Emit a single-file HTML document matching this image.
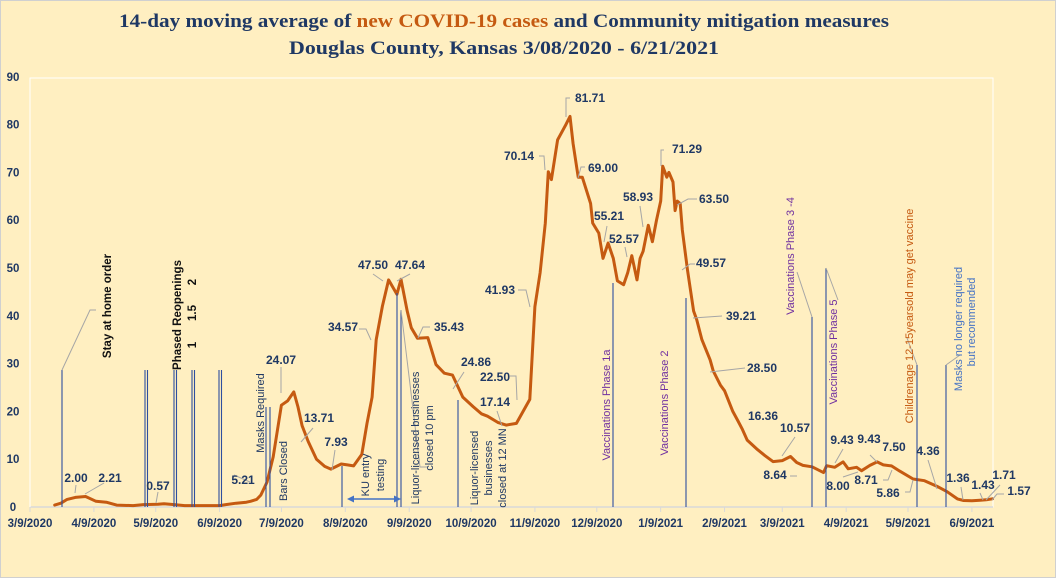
<!DOCTYPE html>
<html><head><meta charset="utf-8">
<style>
html,body{margin:0;padding:0;background:#FFEFC1;}
svg{display:block;}
text{font-family:"Liberation Sans",sans-serif;}
.t{font-family:"Liberation Serif",serif;font-weight:bold;fill:#1F3864;font-size:19px;}
.ax{font-size:11.5px;fill:#1F3864;font-weight:bold;}
.lb{font-size:12px;fill:#1F3864;font-weight:bold;}
.ev{font-size:11px;fill:#1F3864;}
.evb{font-size:11.5px;fill:#111;font-weight:bold;}
.vac{font-size:11px;fill:#7030A0;}
</style></head>
<body>
<svg id="chart" width="1056" height="578" viewBox="0 0 1056 578">
<rect x="0.5" y="0.5" width="1055" height="577" fill="#FFEFC1" stroke="#D0D0D0"/>
<rect x="30" y="78" width="963" height="429" fill="none" stroke="#FFFFFF" stroke-width="1"/>
<text class="t" x="504" y="27" text-anchor="middle" textLength="770" lengthAdjust="spacingAndGlyphs">14-day moving average of <tspan fill="#C55A11">new COVID-19 cases</tspan> and Community mitigation measures</text>
<text class="t" x="504" y="54" text-anchor="middle" textLength="430" lengthAdjust="spacingAndGlyphs">Douglas County, Kansas 3/08/2020 - 6/21/2021</text>
<g id="axes"></g>
<g id="events"></g>
<g id="series"></g>
<g id="labels"></g>
</svg>
<script>
// ---- data ----
const dayOffsets = [12,15,18,22,27,32,37,42,50,55,62,65,70,75,85,92,95,100,105,107,110,112,115,118,122,125,128,130,132,135,139,143,146,151,154,157,161,163.5,166,168,171,174,178,180,183,185,188,193,197,201,205,210,215,219,222,227,231,236,242.5,245,247.5,250,251.5,253,256,260,262,263.5,266,268,272,273,276,278,280.5,283,285,288,290,292,294.5,296,297.5,300,302,304,306,307,309,310,312,313,314,315.5,316.5,319,322,323.5,326,330,331.5,335,337,341,343.5,345.5,348,353,356.5,360.5,365,369,372,375,379.5,385,386.5,390.5,394.5,397,401,403.5,407.5,411,414,418,422,428.5,434,440,445,450,453,457,461,464,467];
const caseValues = [0.4,0.8,1.6,2.0,2.2,1.2,1.0,0.4,0.3,0.5,0.57,0.7,0.5,0.3,0.3,0.3,0.5,0.8,1.0,1.2,1.6,2.5,5.2,10.5,21.3,22.2,24.07,21,17,13.71,10,8.5,7.93,9,8.8,8.6,11,17.5,23,35,42,47.5,44.5,47.64,41,37.5,35.3,35.43,29.8,28,27.6,23,21,19.5,19,17.7,17.14,17.5,22.5,41.93,49,59.4,70.14,68.5,76.8,80,81.71,76,69,69.0,63.5,59.4,57.3,52,55.21,52,47.3,46.5,49,52.57,47.5,52,53.5,58.93,55.5,60,64,71.29,69,70,68,62,64,63.5,58,49.57,41,39.21,35,30.8,28.5,25.5,24.3,20,18,16.36,14,12,10.8,9.5,9.7,10.57,9.3,8.7,8.4,7.2,8.64,8.3,9.43,8.0,8.3,7.6,8.71,9.43,8.8,8.6,7.5,5.86,5.5,4.36,3.2,1.7,1.36,1.3,1.43,1.5,1.71,1.57];
const yTicks = [0,10,20,30,40,50,60,70,80,90];
const xTickLabels = ["3/9/2020","4/9/2020","5/9/2020","6/9/2020","7/9/2020","8/9/2020","9/9/2020","10/9/2020","11/9/2020","12/9/2020","1/9/2021","2/9/2021","3/9/2021","4/9/2021","5/9/2021","6/9/2021"];
const xTickDays = [0,31,61,92,122,153,184,214,245,275,306,337,365,396,426,457];

// ---- scales ----
const X0 = 30, PXD = 2.061, Y0 = 507, PXV = 4.78;
function xs(d){ return X0 + d*PXD; }
function ys(v){ return Y0 - v*PXV; }
const NS = "http://www.w3.org/2000/svg";
function mk(tag, attrs, parent, txt){
  const e = document.createElementNS(NS, tag);
  for (const k in attrs) e.setAttribute(k, attrs[k]);
  if (txt !== undefined) e.textContent = txt;
  parent.appendChild(e);
  return e;
}
const axes = document.getElementById('axes');
let a1 = mk('line',{x1:X0,y1:Y0,x2:993,y2:Y0,stroke:'#D9D9D9','stroke-width':1.5},axes);


let a2 = mk('line',{x1:X0,y1:78,x2:X0,y2:Y0,stroke:'#FFFFFF','stroke-width':1},axes);


yTicks.forEach(v=>{
  const t = mk('text',{x:13,y:ys(v)+4,'text-anchor':'middle',class:'ax'},axes,String(v));
  
  
});
xTickLabels.forEach((s,i)=>{
  const x = xs(xTickDays[i]);
  const tk = mk('line',{x1:x,y1:Y0,x2:x,y2:Y0+5,stroke:'#D9D9D9'},axes);
  
  
  const t = mk('text',{x:x,y:527,'text-anchor':'middle',class:'ax'},axes,s);
  
  
});

// ---- series ----
const series = document.getElementById('series');
let d = '';
dayOffsets.forEach((dd,i)=>{ d += (i?'L':'M') + xs(dd).toFixed(1) + ',' + ys(caseValues[i]).toFixed(1); });
const path = mk('path',{d:d,fill:'none',stroke:'#C55A11','stroke-width':3,'stroke-linejoin':'round','stroke-linecap':'round'},series);


</script>
<svg style="position:absolute;left:0;top:0" width="1056" height="578">
<g stroke="#2F4F9F" stroke-width="1.1">
<line x1="62" y1="370" x2="62" y2="507"/>
<line x1="145" y1="370" x2="145" y2="507"/><line x1="147.5" y1="370" x2="147.5" y2="507"/>
<line x1="174" y1="370" x2="174" y2="507"/><line x1="176.5" y1="370" x2="176.5" y2="507"/>
<line x1="192" y1="370" x2="192" y2="507"/><line x1="194.5" y1="370" x2="194.5" y2="507"/>
<line x1="219" y1="370" x2="219" y2="507"/><line x1="221.5" y1="370" x2="221.5" y2="507"/>
<line x1="266" y1="407" x2="266" y2="507"/>
<line x1="270" y1="407" x2="270" y2="507"/>
<line x1="342" y1="466" x2="342" y2="507"/>
<line x1="397" y1="293" x2="397" y2="507"/>
<line x1="401" y1="310" x2="401" y2="507"/>
<line x1="458" y1="400" x2="458" y2="507"/>
<line x1="613" y1="283" x2="613" y2="507"/>
<line x1="686" y1="298" x2="686" y2="507"/>
<line x1="812" y1="317" x2="812" y2="507"/>
<line x1="826" y1="268" x2="826" y2="507"/>
<line x1="917" y1="365" x2="917" y2="507"/>
<line x1="946" y1="365" x2="946" y2="507"/>
</g>
<g stroke="#A6A6A6" stroke-width="1" fill="none">
<polyline points="62,370 90,310 96,310"/>
<polyline points="75,493 76,485"/><polyline points="85,494 104,483"/>
<polyline points="156,503 158,492"/><polyline points="250,482 234,475"/>
<polyline points="281,393 281,367"/><polyline points="301,442 313,428"/>
<polyline points="332,470 335,450"/><polyline points="371,340 366,329 359,329"/>
<polyline points="383,281 373,274"/><polyline points="397,281 410,274"/>
<polyline points="418,338 423,327 430,327"/><polyline points="453,389 464,372"/>
<polyline points="401,310 420,467 428,467"/><polyline points="517,400 516,376 510,376"/>
<polyline points="502,426 497,411"/><polyline points="530,307 526,290 518,290"/>
<polyline points="545,170 544,156 539,156"/><polyline points="566,117 566,98 570,98"/>
<polyline points="578,178 581,167 585,167"/><polyline points="604,242 607,226"/>
<polyline points="627,257 625,247"/><polyline points="643,227 640,206"/>
<polyline points="661,166 661,150 664,150"/><polyline points="677,205 688,199 697,199"/>
<polyline points="682,270 690,264 695,264"/><polyline points="693,318 722,316"/>
<polyline points="710,372 745,368"/><polyline points="782,456 795,437"/>
<polyline points="790,476 797,476"/><polyline points="835,463 843,449"/>
<polyline points="843,477 858,472"/><polyline points="877,462 870,455"/>
<polyline points="892,470 888,480 883,480"/><polyline points="913,480 910,492 905,492"/>
<polyline points="937,489 928,460"/><polyline points="963,500 961,487"/>
<polyline points="983,500 980,493"/><polyline points="986,500 1000,485"/>
<polyline points="992,500 997,494 1004,494"/>
<polyline points="812,317 797,272"/><polyline points="826,268 838,300"/>
<polyline points="917,365 907,338"/><polyline points="946,365 960,355"/>
</g>
<g>
<line x1="351" y1="499" x2="397" y2="499" stroke="#4472C4" stroke-width="1.5"/>
<polygon points="347,499 354,495.5 354,502.5" fill="#4472C4"/>
<polygon points="401,499 394,495.5 394,502.5" fill="#4472C4"/>
</g>
<g>
<text class="lb" x="76" y="482" text-anchor="middle">2.00</text>
<text class="lb" x="110" y="482" text-anchor="middle">2.21</text>
<text class="lb" x="158" y="490" text-anchor="middle">0.57</text>
<text class="lb" x="243" y="484" text-anchor="middle">5.21</text>
<text class="lb" x="281" y="364" text-anchor="middle">24.07</text>
<text class="lb" x="319" y="422" text-anchor="middle">13.71</text>
<text class="lb" x="336" y="446" text-anchor="middle">7.93</text>
<text class="lb" x="343" y="331" text-anchor="middle">34.57</text>
<text class="lb" x="373" y="269" text-anchor="middle">47.50</text>
<text class="lb" x="410" y="269" text-anchor="middle">47.64</text>
<text class="lb" x="449" y="331" text-anchor="middle">35.43</text>
<text class="lb" x="476" y="366" text-anchor="middle">24.86</text>
<text class="lb" x="495" y="381" text-anchor="middle">22.50</text>
<text class="lb" x="495" y="406" text-anchor="middle">17.14</text>
<text class="lb" x="500" y="294" text-anchor="middle">41.93</text>
<text class="lb" x="519" y="160" text-anchor="middle">70.14</text>
<text class="lb" x="590" y="102" text-anchor="middle">81.71</text>
<text class="lb" x="603" y="172" text-anchor="middle">69.00</text>
<text class="lb" x="609" y="220" text-anchor="middle">55.21</text>
<text class="lb" x="624" y="243" text-anchor="middle">52.57</text>
<text class="lb" x="638" y="201" text-anchor="middle">58.93</text>
<text class="lb" x="687" y="153" text-anchor="middle">71.29</text>
<text class="lb" x="714" y="203" text-anchor="middle">63.50</text>
<text class="lb" x="711" y="267" text-anchor="middle">49.57</text>
<text class="lb" x="741" y="320" text-anchor="middle">39.21</text>
<text class="lb" x="762" y="372" text-anchor="middle">28.50</text>
<text class="lb" x="763" y="420" text-anchor="middle">16.36</text>
<text class="lb" x="795" y="432" text-anchor="middle">10.57</text>
<text class="lb" x="775" y="479" text-anchor="middle">8.64</text>
<text class="lb" x="842" y="444" text-anchor="middle">9.43</text>
<text class="lb" x="838" y="490" text-anchor="middle">8.00</text>
<text class="lb" x="869" y="443" text-anchor="middle">9.43</text>
<text class="lb" x="866" y="484" text-anchor="middle">8.71</text>
<text class="lb" x="894" y="451" text-anchor="middle">7.50</text>
<text class="lb" x="888" y="497" text-anchor="middle">5.86</text>
<text class="lb" x="928" y="455" text-anchor="middle">4.36</text>
<text class="lb" x="958" y="482" text-anchor="middle">1.36</text>
<text class="lb" x="983" y="489" text-anchor="middle">1.43</text>
<text class="lb" x="1004" y="479" text-anchor="middle">1.71</text>
<text class="lb" x="1019" y="495" text-anchor="middle">1.57</text>
</g>
<g>
<text class="evb" transform="translate(111,306) rotate(-90)" text-anchor="middle">Stay at home  order</text>
<text class="evb" transform="translate(181,315) rotate(-90)" text-anchor="middle">Phased  Reopenings</text>
<text class="evb" transform="translate(196,345) rotate(-90)" text-anchor="middle">1</text>
<text class="evb" transform="translate(196,313) rotate(-90)" text-anchor="middle">1.5</text>
<text class="evb" transform="translate(196,282) rotate(-90)" text-anchor="middle">2</text>
<text class="ev" transform="translate(264,413) rotate(-90)" text-anchor="middle">Masks Required</text>
<text class="ev" transform="translate(287,471) rotate(-90)" text-anchor="middle">Bars Closed</text>
<text class="ev" transform="translate(369,475) rotate(-90)" text-anchor="middle">KU entry</text>
<text class="ev" transform="translate(384,475) rotate(-90)" text-anchor="middle">testing</text>
<text class="ev" transform="translate(419,438) rotate(-90)" text-anchor="middle">Liquor-licensed businesses</text>
<text class="ev" transform="translate(433,438) rotate(-90)" text-anchor="middle">closed 10 pm</text>
<text class="ev" transform="translate(478,468) rotate(-90)" text-anchor="middle">Liquor-licensed</text>
<text class="ev" transform="translate(492,468) rotate(-90)" text-anchor="middle">businesses</text>
<text class="ev" transform="translate(506,468) rotate(-90)" text-anchor="middle">closed at 12 MN</text>
<text class="vac" transform="translate(610,405) rotate(-90)" text-anchor="middle">Vaccinations Phase 1a</text>
<text class="vac" transform="translate(668,403) rotate(-90)" text-anchor="middle">Vaccinations Phase 2</text>
<text class="vac" transform="translate(794,256) rotate(-90)" text-anchor="middle">Vaccinations Phase 3 -4</text>
<text class="vac" transform="translate(837,352) rotate(-90)" text-anchor="middle">Vaccinations Phase 5</text>
<text class="ev" style="fill:#C55A11" transform="translate(913,316) rotate(-90)" text-anchor="middle">Childrenage 12-15yearsold may get vaccine</text>
<text class="ev" style="fill:#4472C4" transform="translate(962,329) rotate(-90)" text-anchor="middle">Masks no longer required</text>
<text class="ev" style="fill:#4472C4" transform="translate(975,322) rotate(-90)" text-anchor="middle">but recommended</text>
</g>
</svg>
</body></html>
